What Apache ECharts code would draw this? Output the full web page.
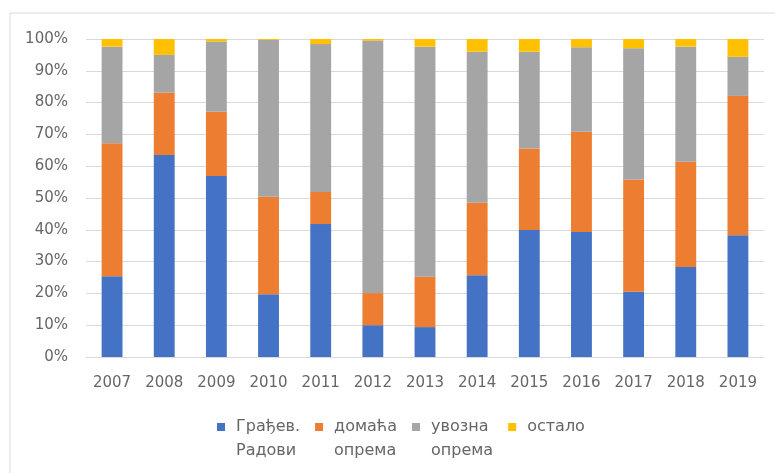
<!DOCTYPE html>
<html><head><meta charset="utf-8">
<script src="https://cdn.jsdelivr.net/npm/echarts@6/dist/echarts.min.js"></script>
<style>html,body{margin:0;padding:0;background:#fff}#c{width:775px;height:473px}</style>
</head><body><div id="c"></div>
<script>
const categories = ['2007','2008','2009','2010','2011','2012','2013','2014','2015','2016','2017','2018','2019'];
const gradjRadovi = [25.4, 63.5, 56.9, 19.7, 41.8, 10.0, 9.4, 25.7, 39.9, 39.3, 20.5, 28.3, 38.3];
const domacaOprema = [41.8, 19.6, 20.2, 30.7, 10.1, 10.1, 15.8, 22.8, 25.7, 31.5, 35.3, 33.1, 43.8];
const uvoznaOprema = [30.4, 11.9, 22.1, 49.3, 46.5, 79.4, 72.4, 47.5, 30.4, 26.6, 41.3, 36.2, 12.3];
const ostalo = [2.4, 5.0, 0.8, 0.3, 1.6, 0.5, 2.4, 4.0, 4.0, 2.6, 2.9, 2.4, 5.6];
const seriesNames = ['Грађев. Радови', 'домаћа опрема', 'увозна опрема', 'остало'];
const yTicks = [0, 10, 20, 30, 40, 50, 60, 70, 80, 90, 100];

const colors = ['#4472C4', '#ED7D31', '#A5A5A5', '#FFC000'];
const values = [gradjRadovi, domacaOprema, uvoznaOprema, ostalo];
const font = 'DejaVu Sans';
const fs = 15;
const lfs = 16;
const chart = echarts.init(document.getElementById('c'));
chart.setOption({
  animation: false,
  backgroundColor: '#fff',
  color: colors,
  graphic: [{type: 'rect', shape: {x: 10, y: 13, width: 800, height: 500}, style: {fill: 'none', stroke: '#d9d9d9', lineWidth: 1}, silent: true}],
  grid: {left: 86, right: 11, top: 39, bottom: 116},
  xAxis: {
    type: 'category', data: categories,
    axisLine: {lineStyle: {color: '#d9d9d9'}}, axisTick: {show: false},
    axisLabel: {color: '#666', fontFamily: font, fontSize: fs, margin: 19}
  },
  yAxis: {
    type: 'value', min: yTicks[0], max: yTicks[yTicks.length - 1], interval: 10,
    axisLine: {show: false}, axisTick: {show: false},
    splitLine: {lineStyle: {color: '#d9d9d9'}},
    axisLabel: {color: '#666', fontFamily: font, fontSize: fs, margin: 18, formatter: v => v + '%'}
  },
  legend: {
    left: 212, top: 386, itemWidth: 8, itemHeight: 8, itemGap: 15, icon: 'rect',
    textStyle: {color: '#666', fontFamily: font, fontSize: lfs, lineHeight: 24,
      rich: {t: {color: '#666', fontFamily: font, fontSize: lfs, lineHeight: 24, padding: [0, 0, 0, 6]}}},
    formatter: n => {
      const p = n.split(' ');
      const lines = [' '].concat(p.length > 1 ? p : [n, ' ']);
      return lines.map(l => '{t|' + l + '}').join('\n');
    },
    data: seriesNames
  },
  series: seriesNames.map((n, i) => ({
    name: n, type: 'bar', stack: 'total', barWidth: '40%', data: values[i],
    itemStyle: {color: colors[i]}
  }))
});
</script></body></html>
